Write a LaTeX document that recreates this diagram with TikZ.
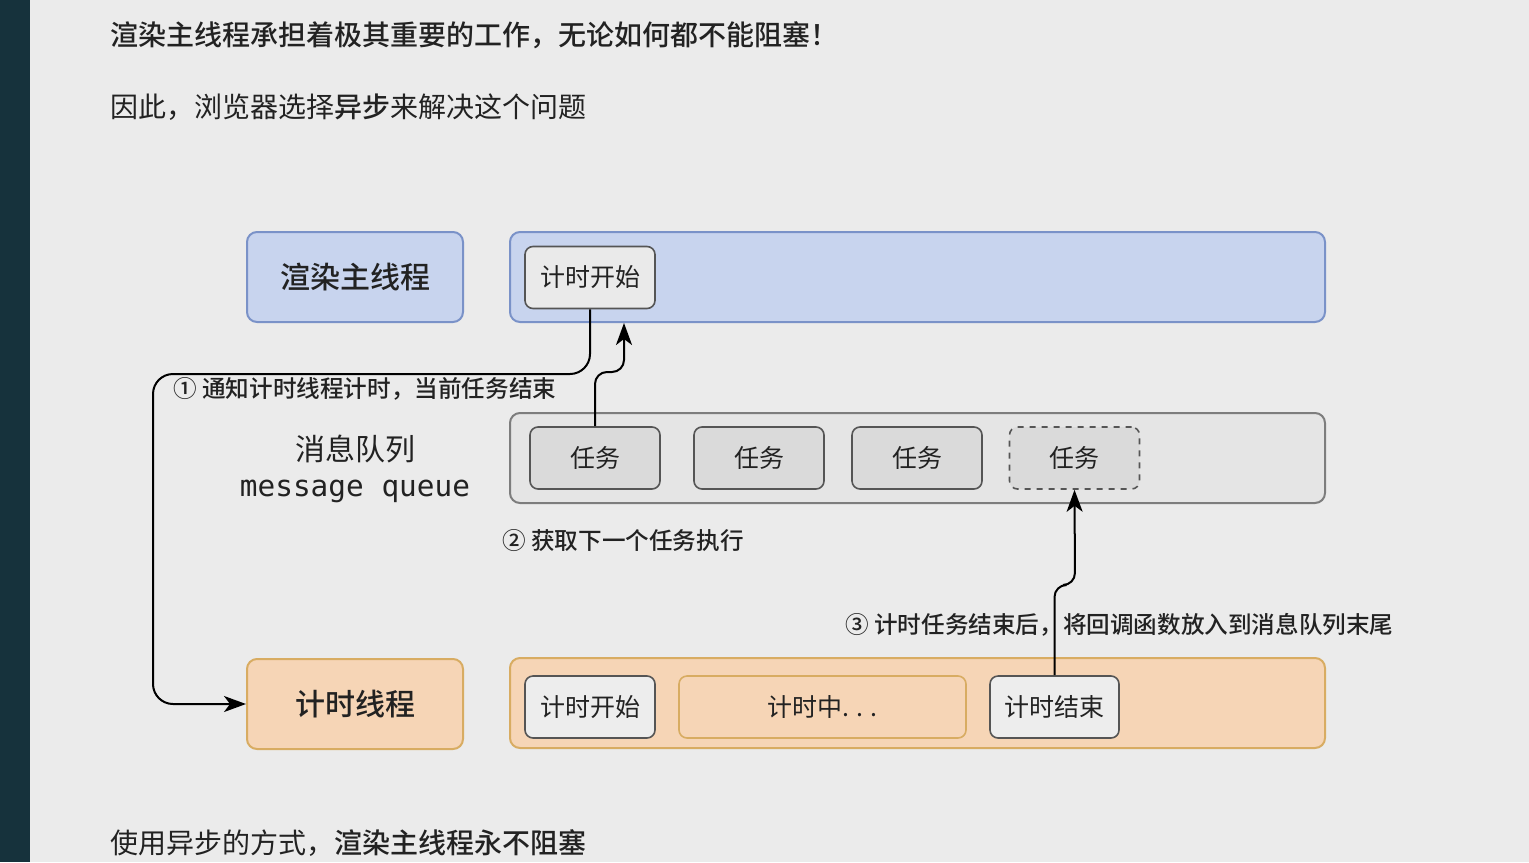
\documentclass[tikz,border=0pt]{standalone}
\usepackage{fontspec}
\setmainfont{Noto Sans CJK SC}[BoldFont={Noto Sans CJK SC Medium}]
\setmonofont{DejaVu Sans Mono}
\usepackage{tikz}
\usetikzlibrary{arrows,arrows.meta,positioning}
\definecolor{bg}{RGB}{235,235,235}
\definecolor{sidebar}{RGB}{22,50,60}
\definecolor{bluefill}{RGB}{200,212,238}
\definecolor{blueline}{RGB}{122,146,200}
\definecolor{orangefill}{RGB}{246,213,182}
\definecolor{orangeline}{RGB}{216,172,98}
\definecolor{grayfill}{RGB}{229,229,229}
\definecolor{grayline}{RGB}{125,125,125}
\definecolor{taskfill}{RGB}{218,218,218}
\definecolor{boxline}{RGB}{85,85,85}
\definecolor{ink}{RGB}{34,34,34}
\tikzstyle{lane} = [rectangle, draw, line width=1pt, rounded corners=5pt,
    minimum width=407.5pt, minimum height=45pt]
\tikzstyle{thread} = [rectangle, draw, line width=1pt, rounded corners=5pt,
    minimum width=108pt, minimum height=45pt, font=\fontsize{15}{18}\selectfont\bfseries]
\tikzstyle{item} = [rectangle, draw=boxline, line width=0.8pt, rounded corners=4pt,
    minimum width=65pt, minimum height=31pt, font=\fontsize{12.5}{15}\selectfont]
\tikzstyle{note} = [anchor=west, inner sep=0pt, font=\fontsize{11.8}{14}\selectfont\bfseries]
\tikzstyle{heading} = [anchor=west, inner sep=0pt, font=\fontsize{14}{17}\selectfont]
\tikzstyle{line} = [draw, line width=1pt, -{Stealth[length=11pt, width=8pt, inset=3pt]}, rounded corners=6pt]

\begin{document}
\begin{tikzpicture}[x=0.5pt, y=-0.5pt, text=ink]
    % Page
    \fill [bg] (0,0) rectangle (1529,862);
    \fill [sidebar] (0,0) rectangle (30,862);
    \useasboundingbox (0,0) rectangle (1529,862);
    % Text
    \node [heading, font=\fontsize{14}{17}\selectfont\bfseries] (title) at (110,35) {渲染主线程承担着极其重要的工作，无论如何都不能阻塞！};
    \node [heading] (reason) at (110,107) {因此，浏览器选择\textbf{异步}来解决这个问题};
    \node [heading] (summary) at (110,843) {使用异步的方式，\textbf{渲染主线程永不阻塞}};
    % Place nodes
    \node [thread, fill=bluefill, draw=blueline] (render) at (355,277) {渲染主线程};
    \node [lane, fill=bluefill, draw=blueline] (renderlane) at (917.5,277) {};
    \node [item, fill=grayfill!80!white] (start1) at (590,277.5) {计时开始};
    \node [align=center, font=\fontsize{15}{18}\selectfont] (queue) at (355,469) {消息队列\\{\ttfamily\fontsize{14.7}{18}\selectfont message queue}};
    \node [lane, fill=grayfill, draw=grayline] (queuelane) at (917.5,458) {};
    \node [item, fill=taskfill] (task1) at (595,458) {任务};
    \node [item, fill=taskfill] (task2) at (759,458) {任务};
    \node [item, fill=taskfill] (task3) at (917,458) {任务};
    \node [item, fill=taskfill, dashed] (task4) at (1074.5,458) {任务};
    \node [thread, fill=orangefill, draw=orangeline] (timer) at (355,704) {计时线程};
    \node [lane, fill=orangefill, draw=orangeline] (timerlane) at (917.5,703) {};
    \node [item, fill=grayfill!70!white] (start2) at (590,707) {计时开始};
    \node [item, fill=orangefill, draw=orangeline, minimum width=143.5pt] (ticking) at (822.5,707) {计时中. . .};
    \node [item, fill=grayfill!70!white, minimum width=64.5pt] (stop) at (1054.5,707) {计时结束};
    % Labels
    \node [note] (step1) at (173,389) {① 通知计时线程计时，当前任务结束};
    \node [note] (step2) at (502,541) {② 获取下一个任务执行};
    \node [note] (step3) at (845,625) {③ 计时任务结束后，将回调函数放入到消息队列末尾};
    % Draw edges
    \coordinate (bend1) at (153,374);
    \coordinate (jog1) at (624,372);
    \coordinate (jog2) at (1075,585);
    \path [line, rounded corners=10pt] (start1.south) |- (bend1) |- (timer.west);
    \path [line] (task1.north) |- (jog1) -- (jog1 |- renderlane.south);
    \path [line] (stop.north) |- (jog2) -- (task4.south);
\end{tikzpicture}
\end{document}
